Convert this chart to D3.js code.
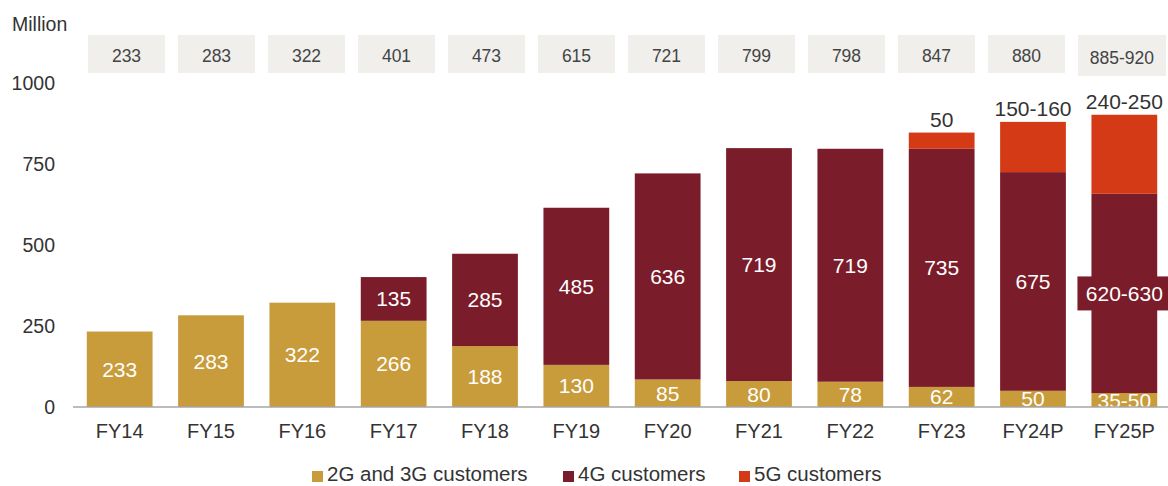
<!DOCTYPE html>
<html lang="en">
<head>
<meta charset="utf-8">
<title>customers chart</title>
<script src="https://d3js.org/d3.v7.min.js"></script>
<style>
  body { margin: 0; background: #fff; }
  text { font-family: "Liberation Sans", Arial, sans-serif; }
</style>
</head>
<body>
<div id="chart"></div>
<script>
// chart data
var years = ["FY14","FY15","FY16","FY17","FY18","FY19","FY20","FY21","FY22","FY23","FY24P","FY25P"];
var totalLabels = ["233","283","322","401","473","615","721","799","798","847","880","885-920"];
var g23 = [233, 283, 322, 266, 188, 130, 85, 80, 78, 62, 50, 43];
var g4 = [0, 0, 0, 135, 285, 485, 636, 719, 719, 735, 675, 615];
var g5 = [0, 0, 0, 0, 0, 0, 0, 0, 0, 50, 155, 244];
var g23Labels = ["233","283","322","266","188","130","85","80","78","62","50","35-50"];
var g4Labels = ["","","","135","285","485","636","719","719","735","675","620-630"];
var g5Labels = ["","","","","","","","","","50","150-160","240-250"];
var yTicks = [0, 250, 500, 750, 1000];
var seriesNames = ["2G and 3G customers", "4G customers", "5G customers"];
var colors = ["#c89b3b", "#7a1c2a", "#d53a16"];

var width = 1168, height = 486;
var svg = d3.select("#chart").append("svg")
    .attr("width", width)
    .attr("height", height);

// scales
var x = d3.scaleBand()
    .domain(years)
    .range([74, 1170])
    .paddingInner(0.28)
    .paddingOuter(0.14);

var y = d3.scaleLinear()
    .domain([0, 1000])
    .range([407, 83]);

// boxes along the top with the totals
var xBox = d3.scaleBand()
    .domain(years)
    .range([88, 1155])
    .paddingInner(0.144)
    .paddingOuter(0);

var boxes = svg.append("g").selectAll("g")
    .data(years)
    .enter().append("g");
boxes.append("rect")
    .attr("x", function(d){ return xBox(d); })
    .attr("y", 35)
    .attr("width", function(d,i){ return i == years.length-1 ? 88 : xBox.bandwidth(); })
    .attr("height", function(d,i){ return i == years.length-1 ? 41 : 38; })
    .attr("fill", "#f0efec");
boxes.append("text")
    .attr("x", function(d,i){ return xBox(d) + (i == years.length-1 ? 44 : xBox.bandwidth()/2); })
    .attr("y", function(d,i){ return i == years.length-1 ? 64 : 62; })
    .attr("text-anchor", "middle")
    .attr("font-size", 17.5)
    .attr("fill", "#444")
    .text(function(d,i){ return totalLabels[i]; });

// stacked bars
var rows = years.map(function(d,i){
    return { year: d, s0: g23[i], s1: g4[i], s2: g5[i], i: i };
});
var stack = d3.stack().keys(["s0","s1","s2"]);
var layers = stack(rows);

var layerG = svg.append("g").selectAll("g")
    .data(layers)
    .enter().append("g")
    .attr("fill", function(d,i){ return colors[i]; });

layerG.selectAll("rect")
    .data(function(d){ return d; })
    .enter().append("rect")
    .attr("x", function(d){ return x(d.data.year); })
    .attr("y", function(d){ return y(d[1]); })
    .attr("width", x.bandwidth())
    .attr("height", function(d){ return y(d[0]) - y(d[1]); });

// background box behind the FY25P 4G label
var lastYear = years[years.length-1];
var l4 = layers[1][years.length-1];
var midLast = y((l4[0] + l4[1]) / 2);
svg.append("rect")
    .attr("x", x(lastYear) - 14)
    .attr("y", midLast - 17)
    .attr("width", 92)
    .attr("height", 34)
    .attr("fill", colors[1]);

// labels inside the bars
var labelSets = [g23Labels, g4Labels];
labelSets.forEach(function(labels, k){
    svg.append("g").selectAll("text")
        .data(layers[k])
        .enter().append("text")
        .filter(function(d,i){ return labels[i] != ""; })
        .attr("x", function(d){ return x(d.data.year) + x.bandwidth()/2; })
        .attr("y", function(d){ return y((d[0] + d[1]) / 2) + 7.5; })
        .attr("text-anchor", "middle")
        .attr("font-size", 21)
        .attr("fill", "#fff")
        .text(function(d){ return labels[d.data.i]; });
});

// 5G labels above the bars
svg.append("g").selectAll("text")
    .data(layers[2])
    .enter().append("text")
    .filter(function(d,i){ return g5Labels[i] != ""; })
    .attr("x", function(d){ return x(d.data.year) + x.bandwidth()/2; })
    .attr("y", function(d){ return y(d[1]) - 6; })
    .attr("text-anchor", "middle")
    .attr("font-size", 21)
    .attr("fill", "#333")
    .text(function(d){ return g5Labels[d.data.i]; });

// x axis
var xAxis = svg.append("g")
    .attr("transform", "translate(0," + y(0) + ")")
    .call(d3.axisBottom(x).tickSize(0).tickPadding(17));
xAxis.select(".domain").remove();
xAxis.selectAll("text")
    .attr("font-size", 20)
    .attr("fill", "#333")
    .style("font-family", "Liberation Sans, Arial, sans-serif");
svg.append("line")
    .attr("x1", 73).attr("x2", 1168)
    .attr("y1", y(0)).attr("y2", y(0))
    .attr("stroke", "#a6a6a6")
    .attr("stroke-width", 1.5);

// y axis
var yAxis = svg.append("g")
    .attr("transform", "translate(55,0)")
    .call(d3.axisLeft(y).tickValues(yTicks).tickFormat(d3.format("d")).tickSize(0).tickPadding(0));
yAxis.select(".domain").remove();
yAxis.selectAll("text")
    .attr("font-size", 19.5)
    .attr("fill", "#333")
    .style("font-family", "Liberation Sans, Arial, sans-serif");

svg.append("text")
    .attr("x", 12)
    .attr("y", 31)
    .attr("font-size", 19.5)
    .attr("fill", "#333")
    .text("Million");

// legend
var legendX = [312, 563, 739];
var legend = svg.append("g").selectAll("g")
    .data(seriesNames)
    .enter().append("g")
    .attr("transform", function(d,i){ return "translate(" + legendX[i] + ",471)"; });
legend.append("rect")
    .attr("width", 11)
    .attr("height", 11)
    .attr("fill", function(d,i){ return colors[i]; });
legend.append("text")
    .attr("x", 15)
    .attr("y", 10)
    .attr("font-size", 20.5)
    .attr("fill", "#333")
    .text(function(d){ return d; });
</script>
</body>
</html>
